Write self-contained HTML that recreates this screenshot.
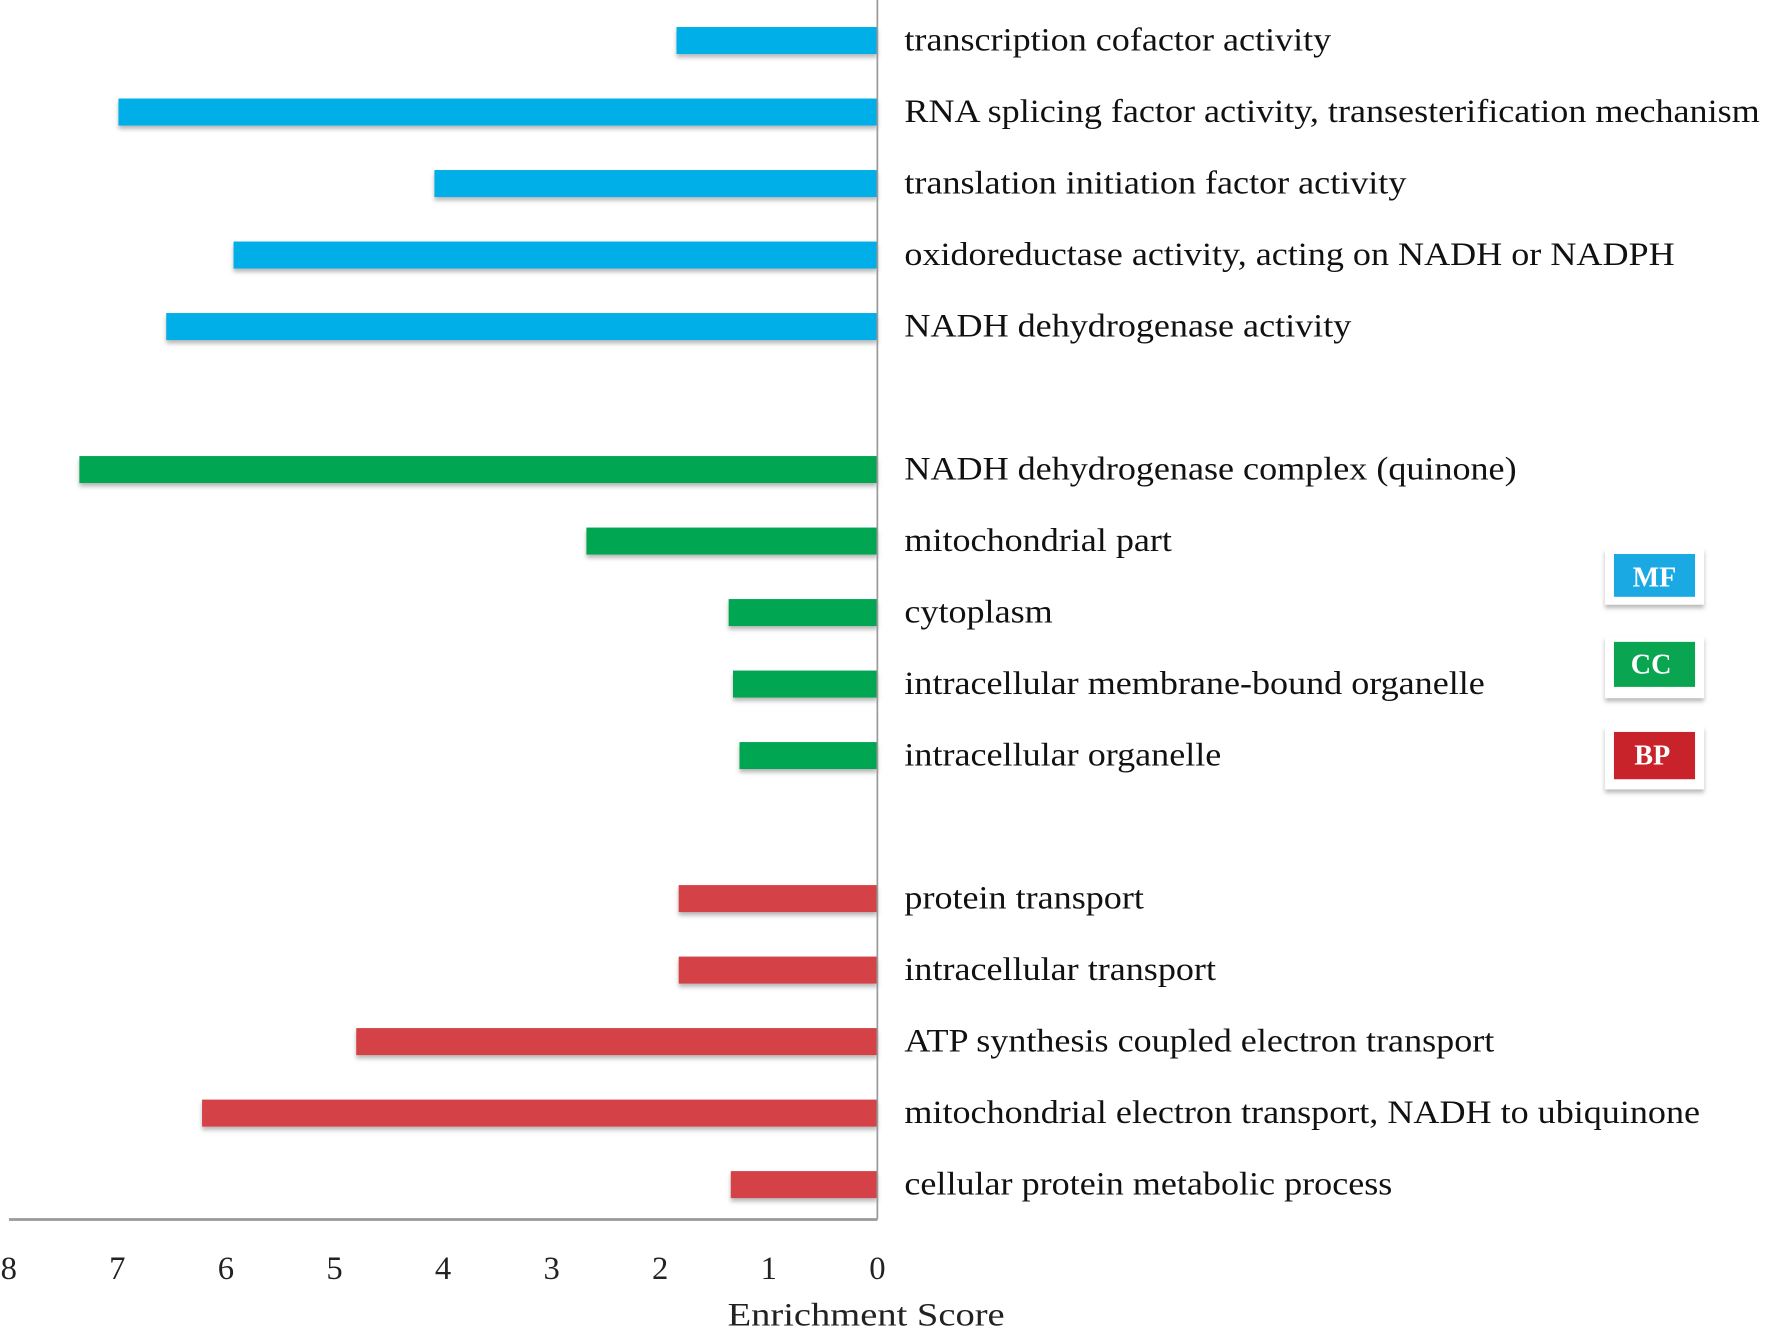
<!DOCTYPE html>
<html><head><meta charset="utf-8"><style>html,body{margin:0;padding:0;background:#fff;}svg{display:block}</style></head>
<body>
<svg id="chart" width="1766" height="1331" viewBox="0 0 1568 1182" preserveAspectRatio="none" xmlns="http://www.w3.org/2000/svg" font-family="'Liberation Serif', serif">
<defs><filter id="sh" x="-20%" y="-20%" width="140%" height="160%"><feDropShadow dx="0" dy="3" stdDeviation="2" flood-color="#888" flood-opacity="0.6"/></filter></defs>
<g id="bars"></g>
<g id="labels"></g>
<line x1="779" y1="0" x2="779" y2="1083" stroke="#999" stroke-width="1.5"/>
<line x1="8" y1="1083" x2="779" y2="1083" stroke="#999" stroke-width="2.5"/>
<g id="ticks"></g>
<text transform="translate(769,1177) scale(1.18,1)" x="0" y="0" font-size="29" text-anchor="middle" fill="#222">Enrichment Score</text>
<g>
 <g><rect x="1425" y="487" width="88" height="50" fill="#fff" filter="url(#sh)"/><rect x="1433" y="492" width="72" height="38" fill="#1aa9e3"/><text x="1469" y="521" font-size="25" font-weight="bold" fill="#fff" text-anchor="middle">MF</text></g>
 <g><rect x="1425" y="565" width="88" height="55" fill="#fff" filter="url(#sh)"/><rect x="1433" y="570" width="72" height="40" fill="#0aa550"/><text x="1466" y="598" font-size="25" font-weight="bold" fill="#fff" text-anchor="middle">CC</text></g>
 <g><rect x="1425" y="645" width="88" height="56" fill="#fff" filter="url(#sh)"/><rect x="1433" y="650" width="72" height="42" fill="#c8222a"/><text x="1467" y="679" font-size="25" font-weight="bold" fill="#fff" text-anchor="middle">BP</text></g>
</g>
</svg>
<script>
const categories = ["transcription cofactor activity","RNA splicing factor activity, transesterification mechanism","translation initiation factor activity","oxidoreductase activity, acting on NADH or NADPH","NADH dehydrogenase activity","","NADH dehydrogenase complex (quinone)","mitochondrial part","cytoplasm","intracellular membrane-bound organelle","intracellular organelle","","protein transport","intracellular transport","ATP synthesis coupled electron transport","mitochondrial electron transport, NADH to ubiquinone","cellular protein metabolic process"];
const values = [1.85,6.99,4.08,5.93,6.55,null,7.35,2.68,1.37,1.33,1.27,null,1.83,1.83,4.80,6.22,1.35];
const groups = ["MF","MF","MF","MF","MF","","CC","CC","CC","CC","CC","","BP","BP","BP","BP","BP"];
const tickValues = [8,7,6,5,4,3,2,1,0];
const colors = {MF:"#00aee8",CC:"#00a651",BP:"#d44346"};
const NS="http://www.w3.org/2000/svg";
function xScale(v){return 779 - v*96.4;}
function yScale(i){return 36 + i*63.5;}
const gb=document.getElementById('bars'), gl=document.getElementById('labels'), gt=document.getElementById('ticks');
values.forEach((v,i)=>{
  if(v===null) return;
  const cy=yScale(i);
  const r=document.createElementNS(NS,'rect');
  
  
  r.setAttribute('x',xScale(v)); r.setAttribute('y',cy-12);
  r.setAttribute('width',779-xScale(v)); r.setAttribute('height',24);
  r.setAttribute('fill',colors[groups[i]]);
  r.setAttribute('filter','url(#sh)');
  gb.appendChild(r);
  const t=document.createElementNS(NS,'text');
  
  
  t.setAttribute('transform','translate(803,'+(cy+9)+') scale(1.105,1)');
  t.setAttribute('x',0); t.setAttribute('y',0);
  t.setAttribute('font-size','29'); t.setAttribute('fill','#111');
  t.textContent=categories[i];
  gl.appendChild(t);
});
tickValues.forEach(v=>{
  const t=document.createElementNS(NS,'text');
  
  
  t.setAttribute('x',xScale(v)); t.setAttribute('y',1136);
  t.setAttribute('font-size','29'); t.setAttribute('text-anchor','middle'); t.setAttribute('fill','#222');
  t.textContent=v;
  gt.appendChild(t);
});
</script>
</body></html>
